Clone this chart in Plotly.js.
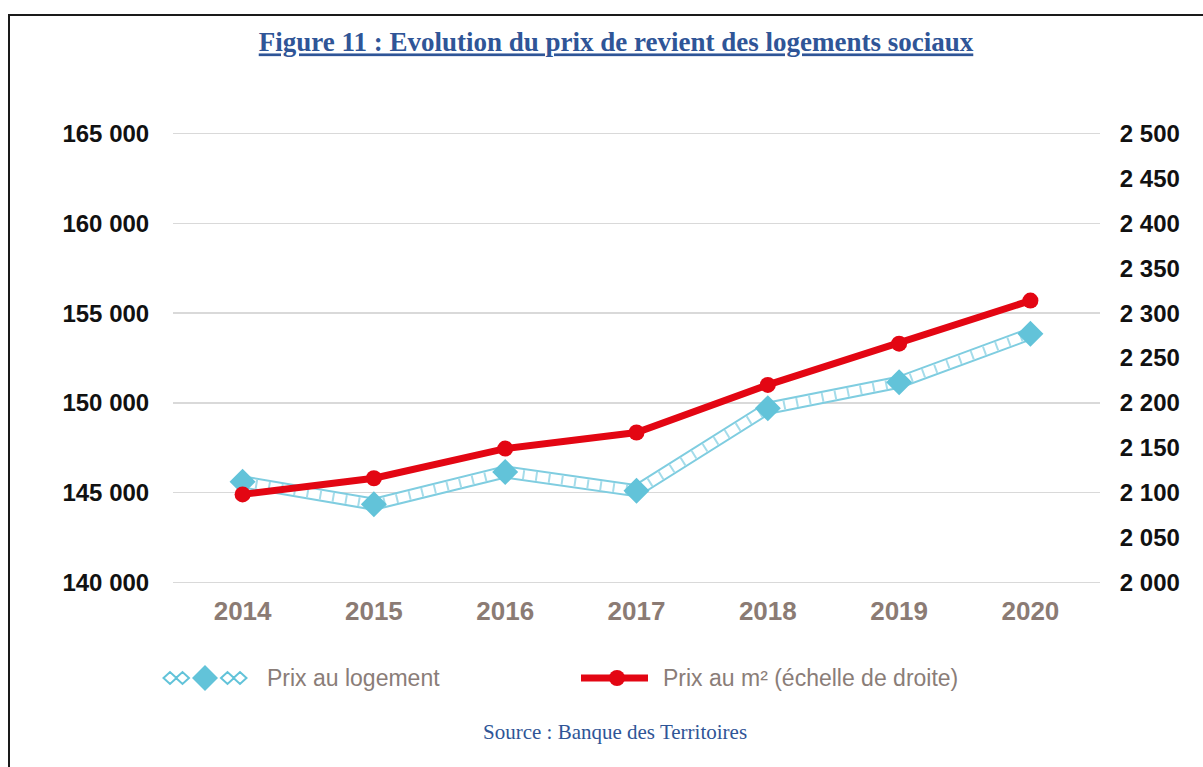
<!DOCTYPE html>
<html><head><meta charset="utf-8">
<script src="https://cdn.plot.ly/plotly-3.0.1.min.js"></script>
<style>
html,body{margin:0;padding:0;background:#fff;overflow:hidden;}
#wrap{position:relative;width:1203px;height:767px;overflow:hidden;}
#chart{width:1203px;height:767px;}
#frame{position:absolute;left:8px;top:14px;width:1300px;height:900px;border-left:2px solid #1a1a1a;border-top:2px solid #1a1a1a;pointer-events:none;}
</style>
</head><body>
<div id="wrap"><div id="chart"></div><div id="frame"></div></div>
<script>
const years = ['2014','2015','2016','2017','2018','2019','2020'];
const prixLogement = [145600, 144350, 146150, 145100, 149700, 151150, 153850];
const prixM2 = [2098, 2116, 2149, 2167, 2220, 2266, 2314];
const leftTickVals = [140000, 145000, 150000, 155000, 160000, 165000];
const leftTickText = ['140 000','145 000','150 000','155 000','160 000','165 000'];
const rightTickVals = [2000,2050,2100,2150,2200,2250,2300,2350,2400,2450,2500];
const rightTickText = ['2 000','2 050','2 100','2 150','2 200','2 250','2 300','2 350','2 400','2 450','2 500'];
const nameLogement = 'Prix au logement';
const nameM2 = 'Prix au m² (échelle de droite)';
const titleText = 'Figure 11 : Evolution du prix de revient des logements sociaux';
const sourceText = 'Source : Banque des Territoires';

const BLUE = '#62c3d9';
const RED = '#e30613';
const W = 1203, H = 767;
const PL = 173, PR = 1100, PT = 131, PB = 585;
const px = x => (x - PL) / (PR - PL);
const py = y => (PB - y) / (PB - PT);

const traces = [
  {x: years, y: prixLogement, type: 'scatter', mode: 'lines', line: {color: '#7fcde0', width: 13}, hoverinfo: 'skip', showlegend: false},
  {x: years, y: prixLogement, type: 'scatter', mode: 'lines', line: {color: '#ffffff', width: 9}, hoverinfo: 'skip', showlegend: false},
  {x: years, y: prixLogement, type: 'scatter', mode: 'lines', line: {color: '#a5dcea', width: 9, dash: '2px,11px'}, hoverinfo: 'skip', showlegend: false},
  {x: years, y: prixLogement, type: 'scatter', mode: 'markers', name: nameLogement,
   marker: {symbol: 'diamond', size: 20, color: BLUE}, showlegend: false},
  {x: years, y: prixM2, yaxis: 'y2', type: 'scatter', mode: 'lines+markers', name: nameM2,
   line: {color: RED, width: 7}, marker: {symbol: 'circle', size: 16, color: RED}, showlegend: false}
];

const legendFont = {family: 'Liberation Sans, Arial, sans-serif', size: 23, color: '#8a7d78'};

function smallDiamond(cx) {
  return `M${cx-6.5},0 L${cx},6 L${cx+6.5},0 L${cx},-6 Z `;
}

const shapes = [
  {type: 'path', xref: 'paper', yref: 'paper', xsizemode: 'pixel', ysizemode: 'pixel',
   xanchor: px(205), yanchor: py(678),
   path: smallDiamond(-35) + smallDiamond(-22.5) + smallDiamond(22.5) + smallDiamond(35),
   line: {color: BLUE, width: 2}, fillcolor: 'rgba(0,0,0,0)'},
  {type: 'path', xref: 'paper', yref: 'paper', xsizemode: 'pixel', ysizemode: 'pixel',
   xanchor: px(205), yanchor: py(678),
   path: 'M-13,0 L0,13 L13,0 L0,-13 Z', line: {width: 0}, fillcolor: BLUE},
  {type: 'line', xref: 'paper', yref: 'paper', x0: px(581), x1: px(648), y0: py(678), y1: py(678),
   line: {color: RED, width: 7}},
  {type: 'circle', xref: 'paper', yref: 'paper', xsizemode: 'pixel', ysizemode: 'pixel',
   xanchor: px(617), yanchor: py(678), x0: -8, x1: 8, y0: -8, y1: 8,
   line: {width: 0}, fillcolor: RED}
];

const annotations = [
  {xref: 'paper', yref: 'paper', x: px(265), y: py(678), xanchor: 'left', yanchor: 'middle',
   text: nameLogement, showarrow: false, font: legendFont},
  {xref: 'paper', yref: 'paper', x: px(661), y: py(678), xanchor: 'left', yanchor: 'middle',
   text: nameM2, showarrow: false, font: legendFont},
  {xref: 'paper', yref: 'paper', x: px(615), y: py(732), xanchor: 'center', yanchor: 'middle',
   text: sourceText, showarrow: false,
   font: {family: 'Liberation Serif, Times New Roman, serif', size: 21, color: '#2f5597'}}
];

const layout = {
  width: W, height: H,
  margin: {l: PL, r: W - PR, t: PT, b: H - PB, pad: 0},
  paper_bgcolor: '#ffffff', plot_bgcolor: '#ffffff',
  showlegend: false,
  title: {
    text: '<b><span style="text-decoration:underline">' + titleText + '</span></b>',
    font: {family: 'Liberation Serif, Times New Roman, serif', size: 27, color: '#2f5597'},
    xref: 'container', x: 616 / W, xanchor: 'center',
    yref: 'container', y: 1 - 42 / H, yanchor: 'middle'
  },
  xaxis: {
    type: 'category', categoryorder: 'array', categoryarray: years,
    range: [-0.53, 6.53], showgrid: false, zeroline: false, showline: false,
    ticks: 'outside', ticklen: 3, tickcolor: 'rgba(0,0,0,0)',
    tickfont: {family: 'Liberation Sans, Arial, sans-serif', size: 26, color: '#8b7b74', weight: 'bold'}
  },
  yaxis: {
    range: [139850, 165150], tickmode: 'array', tickvals: leftTickVals, ticktext: leftTickText,
    showgrid: true, gridcolor: '#d9d9d9', gridwidth: 1.5, zeroline: false, showline: false,
    ticks: 'outside', ticklen: 18, tickcolor: 'rgba(0,0,0,0)',
    tickfont: {family: 'Liberation Sans, Arial, sans-serif', size: 24, color: '#111111', weight: 'bold'}
  },
  yaxis2: {
    overlaying: 'y', side: 'right', range: [1997, 2503], tickmode: 'array',
    tickvals: rightTickVals, ticktext: rightTickText,
    showgrid: false, zeroline: false, showline: false,
    ticks: 'outside', ticklen: 14, tickcolor: 'rgba(0,0,0,0)',
    tickfont: {family: 'Liberation Sans, Arial, sans-serif', size: 24, color: '#111111', weight: 'bold'}
  },
  shapes: shapes,
  annotations: annotations
};

Plotly.newPlot('chart', traces, layout, {staticPlot: true, displayModeBar: false});
</script>
</body></html>
